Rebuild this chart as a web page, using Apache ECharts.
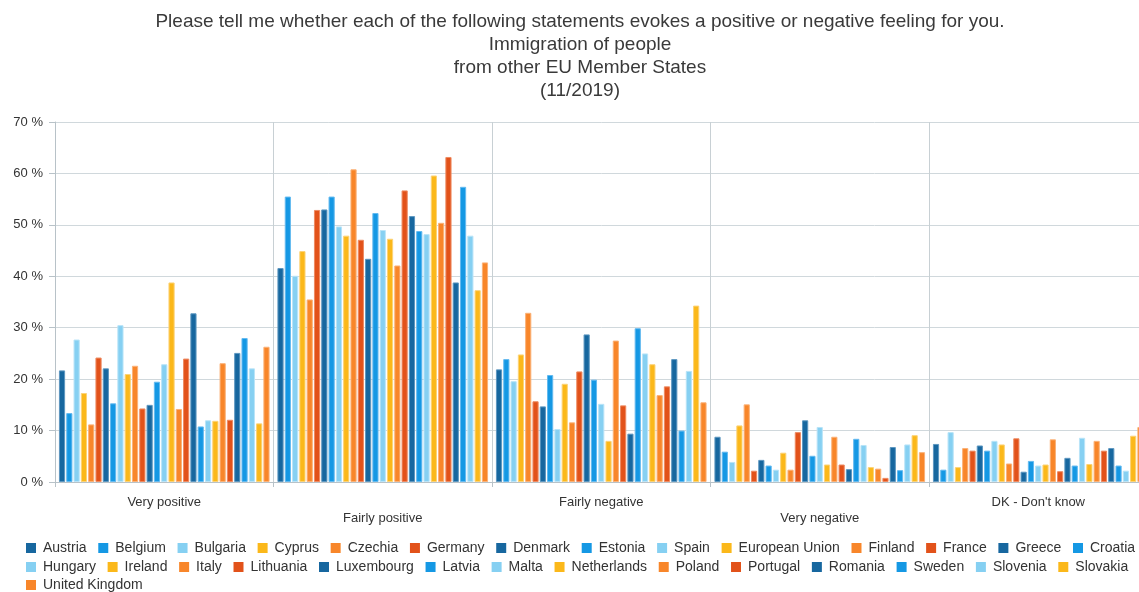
<!DOCTYPE html>
<html>
<head>
<meta charset="utf-8">
<script src="https://cdn.jsdelivr.net/npm/echarts@6/dist/echarts.min.js"></script>
<style>
html,body{margin:0;padding:0;overflow:hidden;background:#fff;width:1139px;height:592px;}
#c{width:1160px;height:592px;}
</style>
</head>
<body>
<div id="c"></div>
<script>
const categories = ['Very positive','Fairly positive','Fairly negative','Very negative','DK - Don\'t know'];
const countries = ['Austria','Belgium','Bulgaria','Cyprus','Czechia','Germany','Denmark','Estonia','Spain','European Union','Finland','France','Greece','Croatia','Hungary','Ireland','Italy','Lithuania','Luxembourg','Latvia','Malta','Netherlands','Poland','Portugal','Romania','Sweden','Slovenia','Slovakia','United Kingdom'];
// values per category, in the order of countries
const veryPositive   = [21.7,13.4,27.7,17.3,11.2,24.2,22.1,15.3,30.5,21.0,22.6,14.3,15.0,19.5,22.9,38.8,14.2,24.0,32.8,10.8,12.0,11.9,23.1,12.1,25.1,28.0,22.1,11.4,26.3];
const fairlyPositive = [41.6,55.5,40.1,44.9,35.5,52.9,53.0,55.5,49.7,47.9,60.8,47.1,43.4,52.3,49.0,47.3,42.1,56.7,51.7,48.8,48.2,59.6,50.4,63.2,38.8,57.4,47.9,37.3,42.7];
const fairlyNegative = [21.9,23.9,19.6,24.8,32.9,15.7,14.7,20.8,10.3,19.1,11.6,21.5,28.7,19.9,15.2,8.0,27.5,14.9,9.4,29.9,25.0,22.9,16.9,18.6,23.9,10.0,21.6,34.3,15.5];
const veryNegative   = [8.8,5.9,3.9,11.0,15.1,2.2,4.3,3.2,2.4,5.7,2.4,9.7,12.0,5.1,10.7,3.4,8.8,3.4,2.5,8.4,7.2,2.9,2.6,0.8,6.8,2.3,7.3,9.1,5.8];
const dontKnow       = [7.4,2.4,9.7,2.9,6.6,6.1,7.1,6.1,8.0,7.3,3.6,8.5,2.0,4.1,3.2,3.4,8.3,2.1,4.7,3.2,8.6,3.5,8.0,6.1,6.6,3.2,2.2,9.0,10.7];
const yTicks = [0,10,20,30,40,50,60,70];

const palette = ['#17679f','#1598e4','#86d0f2','#fbb81a','#f8862a','#e2521a'];
const borders = ['#5d97c0','#64baf0','#b9e4f8','#fcd377','#fbb278','#ee8b62'];

const rows = [veryPositive, fairlyPositive, fairlyNegative, veryNegative, dontKnow];
const series = countries.map((name, i) => ({
  name: name,
  type: 'bar',
  data: rows.map(r => r[i]),
  barGap: '18%',
  barCategoryGap: '3.6%',
  itemStyle: {color: palette[i % 6], borderColor: borders[i % 6], borderWidth: 1},
  emphasis: {disabled: true}
}));

const FONT = 'Liberation Sans, Arial, sans-serif';
const legendBase = {
  left: 26, itemWidth: 10, itemHeight: 10, itemGap: 11.7, icon: 'rect', padding: 0,
  itemStyle: {borderWidth: 0},
  textStyle: {fontSize: 14, color: '#333', fontFamily: FONT, padding: [0, 0, 0, 2]}
};

const chart = echarts.init(document.getElementById('c'));
chart.setOption({
  animation: false,
  textStyle: {fontFamily: FONT},
  title: {
    text: 'Please tell me whether each of the following statements evokes a positive or negative feeling for you.\nImmigration of people\nfrom other EU Member States\n(11/2019)',
    left: 'center', top: 5,
    textStyle: {fontSize: 19, fontWeight: 'normal', color: '#3a3a3a', lineHeight: 23, fontFamily: FONT}
  },
  legend: [
    Object.assign({data: countries.slice(0, 14), top: 541}, legendBase),
    Object.assign({data: countries.slice(14, 28), top: 560}, legendBase),
    Object.assign({data: countries.slice(28), top: 578}, legendBase)
  ],
  grid: {left: 55, right: 12.5, top: 122, bottom: 110, containLabel: false},
  xAxis: {
    type: 'category',
    data: categories,
    axisLine: {lineStyle: {color: '#b8c2c8'}},
    axisTick: {show: true, length: 5, lineStyle: {color: '#b8c2c8'}},
    splitLine: {show: true, lineStyle: {color: '#c8d0d4'}},
    axisLabel: {
      color: '#333', fontSize: 13, margin: 12, lineHeight: 16,
      formatter: (v, i) => (i % 2 ? '\n' + v : v)
    }
  },
  yAxis: {
    type: 'value', min: 0, max: 70, interval: 10,
    axisLine: {show: true, lineStyle: {color: '#b8c2c8'}},
    axisTick: {show: true, length: 6, lineStyle: {color: '#b8c2c8'}},
    splitLine: {lineStyle: {color: '#d0d8dc'}},
    axisLabel: {color: '#333', fontSize: 13, margin: 12, formatter: v => yTicks.includes(v) ? v + ' %' : ''}
  },
  series: series
});
</script>
</body>
</html>
